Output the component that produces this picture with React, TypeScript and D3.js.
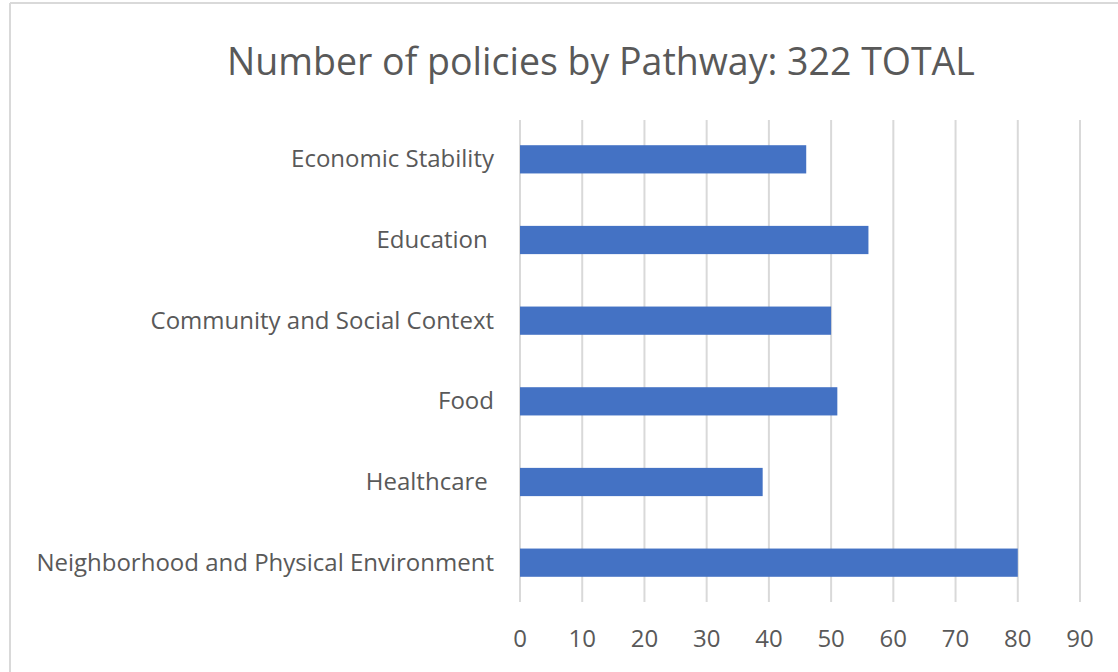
import React from "react";
import * as d3 from "d3";

const categories = [
  "Economic Stability",
  "Education ",
  "Community and Social Context",
  "Food",
  "Healthcare ",
  "Neighborhood and Physical Environment",
];
const values = [46, 56, 50, 51, 39, 80];
const xTicks = [0, 10, 20, 30, 40, 50, 60, 70, 80, 90];
const title = "Number of policies by Pathway: 322 TOTAL";

const W = 1118;
const H = 672;
const FONT = "'Open Sans', 'Segoe UI', sans-serif";
const TEXT = "#595959";

export default function App() {
  const x = d3.scaleLinear().domain([0, 90]).range([520, 1080]);
  const y = d3
    .scaleBand<string>()
    .domain(categories)
    .range([119, 603])
    .paddingInner(0.65)
    .paddingOuter(0.325);
  const gridTop = 120;
  const gridBottom = 602;

  return (
    <svg
      width={W}
      height={H}
      style={{ position: "absolute", left: 0, top: 0, background: "#fff" }}
    >
      <rect x={0} y={0} width={W} height={H} fill="#fff" />
      {/* chart border */}
      <line x1={10} y1={3} x2={W} y2={3} stroke="#d9d9d9" strokeWidth={2} />
      <line x1={10} y1={3} x2={10} y2={H} stroke="#d9d9d9" strokeWidth={2} />

      <text
        x={601}
        y={75}
        textAnchor="middle"
        fontFamily={FONT}
        fontSize={37.5}
        fill={TEXT}
      >
        {title}
      </text>

      {xTicks.map((t) => (
        <line
          key={"g" + t}
          x1={x(t)}
          x2={x(t)}
          y1={gridTop}
          y2={gridBottom}
          stroke="#d9d9d9"
          strokeWidth={2}
        />
      ))}

      {categories.map((c, i) => (
        <rect
          key={c}
          x={x(0)}
          y={y(c)!}
          width={x(values[i]) - x(0)}
          height={y.bandwidth()}
          fill="#4472C4"
        />
      ))}

      {categories.map((c) => (
        <text
          key={"l" + c}
          x={494}
          y={y(c)! + y.bandwidth() / 2 + 8}
          textAnchor="end"
          fontFamily={FONT}
          fontSize={24}
          fill={TEXT}
          style={{ whiteSpace: "pre" }}
        >
          {c}
        </text>
      ))}

      {xTicks.map((t) => (
        <text
          key={"t" + t}
          x={x(t)}
          y={647}
          textAnchor="middle"
          fontFamily={FONT}
          fontSize={24}
          fill={TEXT}
        >
          {t}
        </text>
      ))}
    </svg>
  );
}
